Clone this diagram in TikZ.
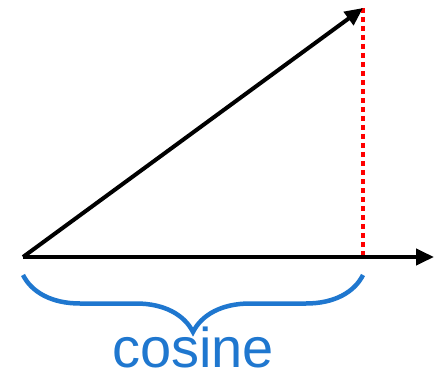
\documentclass[tikz,border=0pt]{standalone}
\usepackage{fontspec}
\setmainfont{Liberation Sans}
\usepackage{tikz}
\usetikzlibrary{arrows.meta, decorations.pathreplacing}
\definecolor{BraceBlue}{RGB}{31, 119, 207}
\definecolor{DotRed}{RGB}{255, 0, 0}

\begin{document}
\begin{tikzpicture}[x=1pt, y=-1pt,
    vec/.style={line width=4pt, -{Triangle[length=18pt, width=16pt]}},
    proj/.style={DotRed, line width=3.5pt, dash pattern=on 5pt off 4pt}]
    \useasboundingbox (0,0) rectangle (443,379);

    % Points
    \coordinate (O) at (23,257);
    \coordinate (A) at (363,8);
    \coordinate (F) at (363,257);
    \coordinate (E) at (434,257);

    % Projection
    \draw[proj] (A) -- (F);

    % Vectors
    \draw[vec] (O) -- (E);
    \draw[vec] (O) -- (A);

    % Brace
    \coordinate (bl) at (23,275);
    \coordinate (br) at (363,275);
    \draw[BraceBlue, line width=4.5pt, decorate,
          decoration={brace, mirror, amplitude=57pt, aspect=0.5}] (bl) -- (br);

    \node[BraceBlue, anchor=base, inner sep=0pt] (cos) at (193,367)
        {\fontsize{56}{60}\selectfont cosine};
\end{tikzpicture}
\end{document}
